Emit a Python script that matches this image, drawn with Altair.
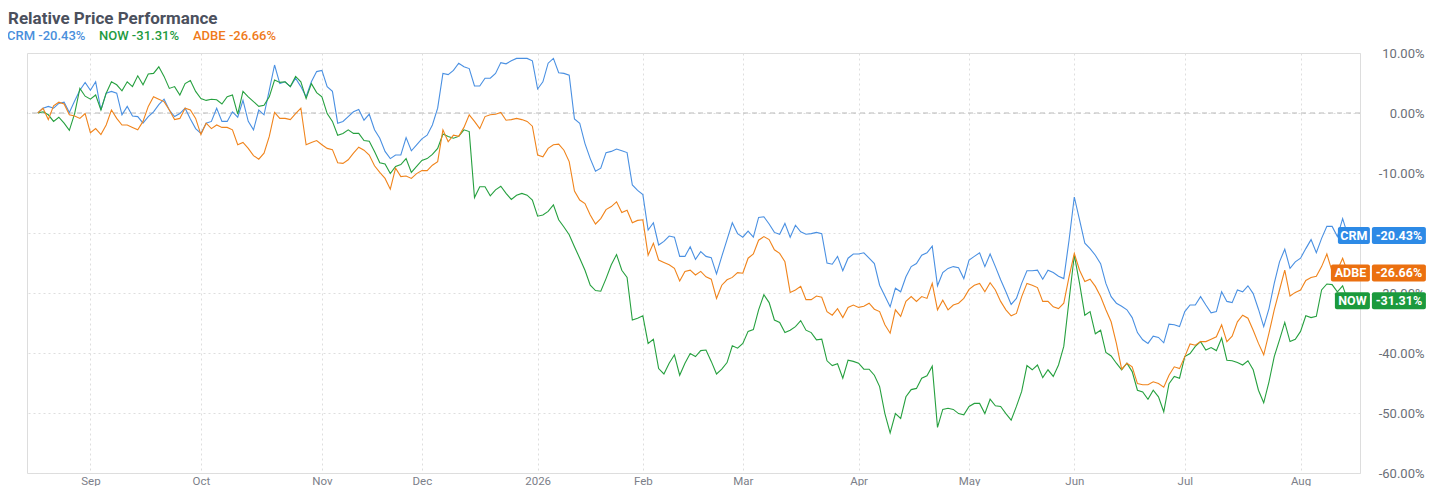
import altair as alt
import pandas as pd

# ---------------- data (percent change since start, one value per trading day) ----------------
SERIES = ["CRM", "NOW", "ADBE"]

crm = [0, 0.8, 1.1, 0.8, 1.6, 1.8, 0.1, 2.0, 3.8, 5.1,
       3.8, 5.2, 0.5, 3.3, 3.6, 3.3, -0.3, 1.1, -0.5, -0.6,
       -1.7, -0.6, 0.2, 1.4, 2.3, 0.5, -0.6, -0.1, 0.8, -1.0,
       -2.6, -3.4, -1.7, -1.4, 0.8, -1.4, -1.4, 0.2, -0.7, 2.1,
       -1.4, -2.8, 0.5, -0.3, 3.8, 8.0, 4.9, 5.2, 4.4, 5.8,
       4.4, 2.7, 5.2, 6.9, 7.1, 4.4, 3.6, -1.7, -1.4, -0.6,
       0.2, 0.6, -1.2, -0.2, -2.8, -4.2, -6.4, -7.6, -7.0, -7.0,
       -4.1, -6.3, -5.3, -4.3, -3.7, -2.0, 0.8, 6.6, 6.4, 7.1,
       8.3, 7.7, 7.4, 4.5, 4.5, 5.8, 5.8, 6.6, 8.4, 8.2,
       8.7, 9.1, 9.1, 9.1, 8.7, 4.0, 5.2, 8.3, 9.1, 6.7,
       6.6, 6.3, -1.0, -1.7, -5.1, -7.6, -9.7, -9.2, -6.6, -6.4,
       -6.0, -6.3, -6.6, -12.0, -12.9, -13.6, -19.5, -18.3, -22.0, -21.4,
       -20.5, -20.7, -23.9, -23.9, -22.3, -24.4, -23.1, -23.9, -24.1, -26.8,
       -23.9, -21.1, -18.3, -20.1, -20.7, -19.7, -20.7, -17.4, -17.3, -18.5,
       -19.9, -20.2, -18.4, -20.7, -18.7, -19.8, -20.2, -20.1, -19.9, -20.1,
       -25.0, -25.2, -23.9, -26.3, -24.2, -23.5, -23.5, -23.3, -24.2, -25.1,
       -28.7, -30.5, -32.3, -29.2, -29.8, -27.3, -25.6, -25.1, -23.7, -23.3,
       -22.2, -28.8, -26.6, -25.9, -25.6, -25.8, -27.6, -24.5, -23.9, -23.3,
       -25.6, -23.5, -25.6, -27.8, -29.8, -31.9, -30.9, -28.4, -26.3, -26.3,
       -26.2, -27.7, -26.2, -26.6, -27.2, -27.6, -21.2, -14.0, -17.8, -21.7,
       -22.6, -23.7, -25.1, -28.4, -30.6, -31.7, -32.2, -32.8, -34.1, -36.6,
       -37.8, -38.4, -37.2, -37.4, -38.3, -35.2, -35.3, -35.6, -33.1, -32.0,
       -32.0, -30.6, -32.0, -33.3, -33.1, -29.8, -31.4, -31.6, -29.5, -29.8,
       -28.8, -30.1, -32.7, -35.6, -32.6, -28.4, -24.8, -22.7, -25.9, -24.8,
       -24.2, -22.6, -21.1, -23.3, -20.9, -18.9, -18.9, -20.6, -17.6, -20.43]

now = [0, 0.2, -0.3, -1.4, -0.7, -1.7, -2.9, -0.1, 4.1, 2.8,
       2.3, 3.0, 0.5, 3.3, 5.2, 4.7, 3.7, 5.2, 4.4, 6.2,
       4.7, 6.5, 6.6, 7.7, 6.1, 4.1, 4.4, 3.0, 4.9, 5.4,
       3.6, 2.4, 2.1, 2.3, 2.2, 1.5, 2.7, 3.0, -0.2, 3.6,
       2.7, 1.9, 1.1, 1.3, 2.7, 5.5, 5.1, 5.2, 4.4, 6.1,
       5.2, 2.4, 4.9, 3.4, 2.7, -0.1, -1.4, -3.7, -3.4, -2.8,
       -3.4, -3.4, -4.6, -4.7, -6.4, -8.3, -8.5, -10.1, -8.9, -8.6,
       -7.6, -9.9, -8.9, -7.9, -7.6, -6.9, -5.9, -3.5, -3.9, -4.2,
       -3.9, -2.8, -3.1, -14.1, -12.3, -12.3, -13.8, -12.8, -12.2, -13.4,
       -14.4, -13.7, -13.4, -13.7, -14.5, -17.2, -17.0, -16.4, -15.3, -17.8,
       -19.0, -20.3, -22.3, -24.2, -26.2, -28.7, -29.6, -29.7, -27.6, -25.3,
       -23.6, -26.2, -27.4, -34.5, -34.2, -33.8, -38.4, -37.7, -42.6, -43.5,
       -41.7, -40.3, -43.7, -41.7, -40.1, -40.6, -39.6, -39.5, -41.4, -43.5,
       -42.7, -41.6, -38.8, -39.2, -38.4, -36.4, -36.1, -32.8, -30.3, -31.6,
       -34.5, -34.9, -36.6, -36.2, -35.6, -34.6, -36.2, -36.6, -37.8, -37.7,
       -41.3, -42.1, -41.8, -44.2, -41.2, -41.4, -41.7, -42.7, -42.7, -43.7,
       -45.6, -50.1, -53.3, -50.1, -50.9, -47.3, -46.1, -45.9, -44.2, -43.8,
       -42.2, -52.4, -49.4, -49.2, -49.4, -50.1, -50.3, -48.9, -48.4, -48.4,
       -50.1, -47.7, -48.8, -48.9, -50.1, -51.2, -48.9, -46.4, -42.1, -42.8,
       -42.0, -44.1, -42.8, -43.9, -42.0, -38.9, -31.2, -23.7, -28.4, -33.7,
       -33.1, -36.8, -36.2, -39.9, -40.5, -41.7, -42.8, -41.7, -43.1, -46.2,
       -46.5, -47.7, -46.2, -47.3, -49.8, -45.1, -43.9, -44.2, -40.6, -40.1,
       -38.9, -38.1, -39.5, -39.1, -39.6, -37.5, -41.2, -41.3, -41.6, -42.0,
       -41.3, -42.8, -46.2, -48.3, -44.8, -40.6, -37.8, -34.9, -38.1, -37.7,
       -36.4, -33.8, -34.1, -33.9, -29.5, -28.5, -28.6, -29.8, -28.8, -31.31]

adbe = [0, 0.8, -1.1, 1.2, 1.8, 1.5, -0.3, -0.5, -0.9, -0.1,
        -3.3, -2.6, -3.6, -2.0, 0.5, -0.9, -2.0, -2.0, -2.4, -2.8,
        -1.4, 1.1, 2.7, 2.3, 1.9, 0.5, -1.1, -0.9, 0.8, 0.5,
        -0.9, -3.6, -1.7, -2.6, -2.0, -2.4, -2.4, -2.8, -5.3, -4.9,
        -5.9, -7.1, -7.7, -6.7, -3.9, 0.1, -0.9, -0.9, -1.1, -0.1,
        0.8, -5.3, -4.9, -4.6, -5.3, -5.9, -6.1, -8.3, -8.4, -7.8,
        -6.7, -5.7, -6.2, -7.0, -8.8, -9.9, -10.9, -12.7, -9.2, -10.6,
        -10.5, -10.9, -10.1, -9.6, -9.6, -8.7, -8.1, -2.8, -4.8, -3.7,
        -3.9, -2.4, -0.3, -1.4, -2.6, -0.6, -0.3, -0.2, 0.1, -1.2,
        -1.1, -0.9, -1.1, -1.4, -2.2, -7.0, -7.3, -5.9, -5.3, -5.2,
        -6.2, -8.1, -13.0, -14.5, -15.1, -17.0, -18.5, -17.6, -16.1, -15.6,
        -14.8, -16.6, -16.2, -18.3, -17.9, -17.8, -23.7, -21.7, -24.5, -24.9,
        -25.3, -25.9, -28.0, -26.4, -26.2, -27.0, -26.4, -27.3, -27.7, -30.9,
        -28.7, -27.8, -27.4, -26.6, -26.7, -24.2, -23.5, -21.2, -20.6, -21.1,
        -22.8, -23.4, -24.8, -29.9, -29.5, -28.9, -31.1, -31.1, -30.5, -30.7,
        -33.1, -33.7, -32.6, -34.1, -32.4, -32.0, -32.4, -32.2, -31.7, -32.7,
        -33.1, -35.3, -36.7, -32.8, -33.9, -31.4, -30.6, -31.4, -30.6, -30.9,
        -28.4, -32.8, -31.2, -32.8, -32.0, -31.7, -30.9, -29.4, -28.7, -28.4,
        -29.8, -28.3, -29.5, -31.4, -32.8, -33.8, -33.4, -30.6, -28.4, -28.7,
        -29.1, -31.4, -31.4, -32.3, -32.6, -31.7, -27.3, -23.4, -26.2, -28.1,
        -27.7, -28.9, -30.6, -32.8, -34.8, -38.4, -42.7, -41.7, -42.3, -45.1,
        -45.3, -45.3, -44.8, -45.1, -45.7, -43.7, -42.3, -42.6, -40.6, -38.5,
        -38.7, -38.1, -38.1, -37.7, -37.3, -35.3, -38.1, -37.2, -34.8, -33.7,
        -34.2, -36.2, -38.4, -40.3, -36.7, -32.8, -29.5, -26.2, -30.5, -29.9,
        -29.5, -27.9, -27.4, -27.2, -25.6, -23.5, -26.4, -26.2, -24.2, -26.66]

VALUES = {"CRM": crm, "NOW": now, "ADBE": adbe}

# trading calendar (weekdays minus US market holidays)
HOLIDAYS = ["2025-09-01", "2025-11-27", "2025-12-25", "2026-01-01", "2026-01-19",
            "2026-02-16", "2026-04-03", "2026-05-25", "2026-06-19", "2026-07-03"]
START = "2025-08-18"

# ---------------- styles ----------------
LINE_COLORS = {"CRM": "#4a90e2", "NOW": "#26a03f", "ADBE": "#f0841c"}
TEXT_COLORS = {"CRM": "#4a8fdc", "NOW": "#1e9a40", "ADBE": "#ef7a1a"}
BADGE_COLORS = {"CRM": "#2d8ae6", "NOW": "#1b9a3d", "ADBE": "#eb7010"}
BADGE_LEFT = {"CRM": -10, "NOW": -13, "ADBE": -17}      # px offsets of the name box
FONT = "Roboto"

# ---------------- build tables ----------------
n = min(len(v) for v in VALUES.values())
bdays = pd.bdate_range(START, periods=n + 40)
bdays = bdays[~bdays.isin(pd.to_datetime(HOLIDAYS))][:n]

rows = []
for s in SERIES:
    for i in range(n):
        rows.append({"idx": i, "date": bdays[i].strftime("%Y-%m-%d"), "series": s, "value": VALUES[s][i]})
df = pd.DataFrame(rows)

tick_idx, tick_lab = [], []
for i in range(1, n):
    if bdays[i].month != bdays[i - 1].month:
        tick_idx.append(i)
        tick_lab.append(str(bdays[i].year) if bdays[i].month == 1 else bdays[i].strftime("%b"))

last = {s: VALUES[s][n - 1] for s in SERIES}
pct = {s: f"{last[s]:.2f}%" for s in SERIES}

x_label_expr = "[" + ",".join(f"'{l}'" for l in tick_lab) + "][indexof([" + ",".join(str(t) for t in tick_idx) + "], datum.value)]"
y_label_expr = "(datum.value < 0 ? '-' : '') + format(abs(datum.value), '.2f') + '%'"
legend_label_expr = "datum.value + ' ' + (" + " : ".join(f"datum.value === '{s}' ? '{pct[s]}'" for s in SERIES[:-1]) + f" : '{pct[SERIES[-1]]}')"
legend_color_expr = " : ".join(f"datum.value === '{s}' ? '{TEXT_COLORS[s]}'" for s in SERIES[:-1]) + f" : '{TEXT_COLORS[SERIES[-1]]}'"

x_scale = alt.Scale(domain=[-2.05, 251.3], nice=False, zero=False)
y_scale = alt.Scale(domain=[-60, 10], nice=False, zero=False)

zero = alt.Chart(pd.DataFrame({"v": [0]})).mark_rule(
    color="#b9b9b9", strokeDash=[5, 4], strokeWidth=1.2
).encode(y=alt.Y("v:Q", scale=y_scale))

lines = alt.Chart(df).mark_line(strokeWidth=1.1).encode(
    x=alt.X("idx:Q", scale=x_scale,
            axis=alt.Axis(values=tick_idx, labelExpr=x_label_expr, title=None, grid=True,
                          gridColor="#dedede", gridDash=[2, 3], domain=False, ticks=False,
                          labelFontSize=11.5, labelColor="#7c8089", labelPadding=2,
                          labelFlush=False, labelFont=FONT)),
    y=alt.Y("value:Q", scale=y_scale,
            axis=alt.Axis(orient="right", values=list(range(-60, 11, 10)), labelExpr=y_label_expr,
                          title=None, grid=True, gridColor="#dedede", gridDash=[2, 3],
                          domain=False, ticks=False, labelAlign="right", labelPadding=64,
                          labelFontSize=13, labelColor="#6b6f78", labelFlush=False, labelFont=FONT)),
    color=alt.Color("series:N",
                    scale=alt.Scale(domain=SERIES, range=[LINE_COLORS[s] for s in SERIES]),
                    legend=alt.Legend(title="Relative Price Performance", orient="none",
                                      legendX=-19, legendY=-42, direction="horizontal",
                                      titleOrient="top", titleAnchor="start", titleFontSize=17,
                                      titleFontWeight="bold", titleColor="#4b505d", titleFont=FONT,
                                      titlePadding=1, titleLimit=500,
                                      symbolSize=0, symbolOpacity=0, symbolStrokeWidth=0,
                                      labelOffset={"expr": "-14"}, labelFontSize=13, labelFontWeight=500,
                                      labelFont=FONT, labelLimit=300, columnPadding=13,
                                      labelExpr=legend_label_expr,
                                      labelColor={"expr": legend_color_expr})),
)

layers = [zero, lines]
for s in SERIES:
    bdf = pd.DataFrame({"idx": [n - 1], "value": [last[s]], "name": [s], "pct": [pct[s]]})
    c = BADGE_COLORS[s]
    box1 = alt.Chart(bdf).mark_rect(color=c, cornerRadius=2, xOffset=BADGE_LEFT[s], x2Offset=22,
                                    yOffset=-8.5, y2Offset=8.5).encode(
        x=alt.X("idx:Q", scale=x_scale), x2="idx:Q", y=alt.Y("value:Q", scale=y_scale), y2="value:Q")
    box2 = alt.Chart(bdf).mark_rect(color=c, cornerRadius=2, xOffset=24, x2Offset=78,
                                    yOffset=-8.5, y2Offset=8.5).encode(
        x=alt.X("idx:Q", scale=x_scale), x2="idx:Q", y=alt.Y("value:Q", scale=y_scale), y2="value:Q")
    t1 = alt.Chart(bdf).mark_text(color="white", fontWeight="bold", fontSize=12.5, font=FONT,
                                  align="center", baseline="middle", dx=(BADGE_LEFT[s] + 22) / 2).encode(
        x=alt.X("idx:Q", scale=x_scale), y=alt.Y("value:Q", scale=y_scale), text="name:N")
    t2 = alt.Chart(bdf).mark_text(color="white", fontWeight="bold", fontSize=12.5, font=FONT,
                                  align="center", baseline="middle", dx=51).encode(
        x=alt.X("idx:Q", scale=x_scale), y=alt.Y("value:Q", scale=y_scale), text="pct:N")
    layers += [box1, box2, t1, t2]

chart = alt.layer(*layers).properties(
    width=1333, height=420,
    autosize=alt.AutoSizeParams(type="none"),
    padding={"left": 19, "top": 45, "right": 66, "bottom": 13},
).configure_view(stroke="#dedede", strokeDash=[2, 3]).configure(font=FONT)

chart.save("out.html", embed_options={"renderer": "svg", "actions": False})
